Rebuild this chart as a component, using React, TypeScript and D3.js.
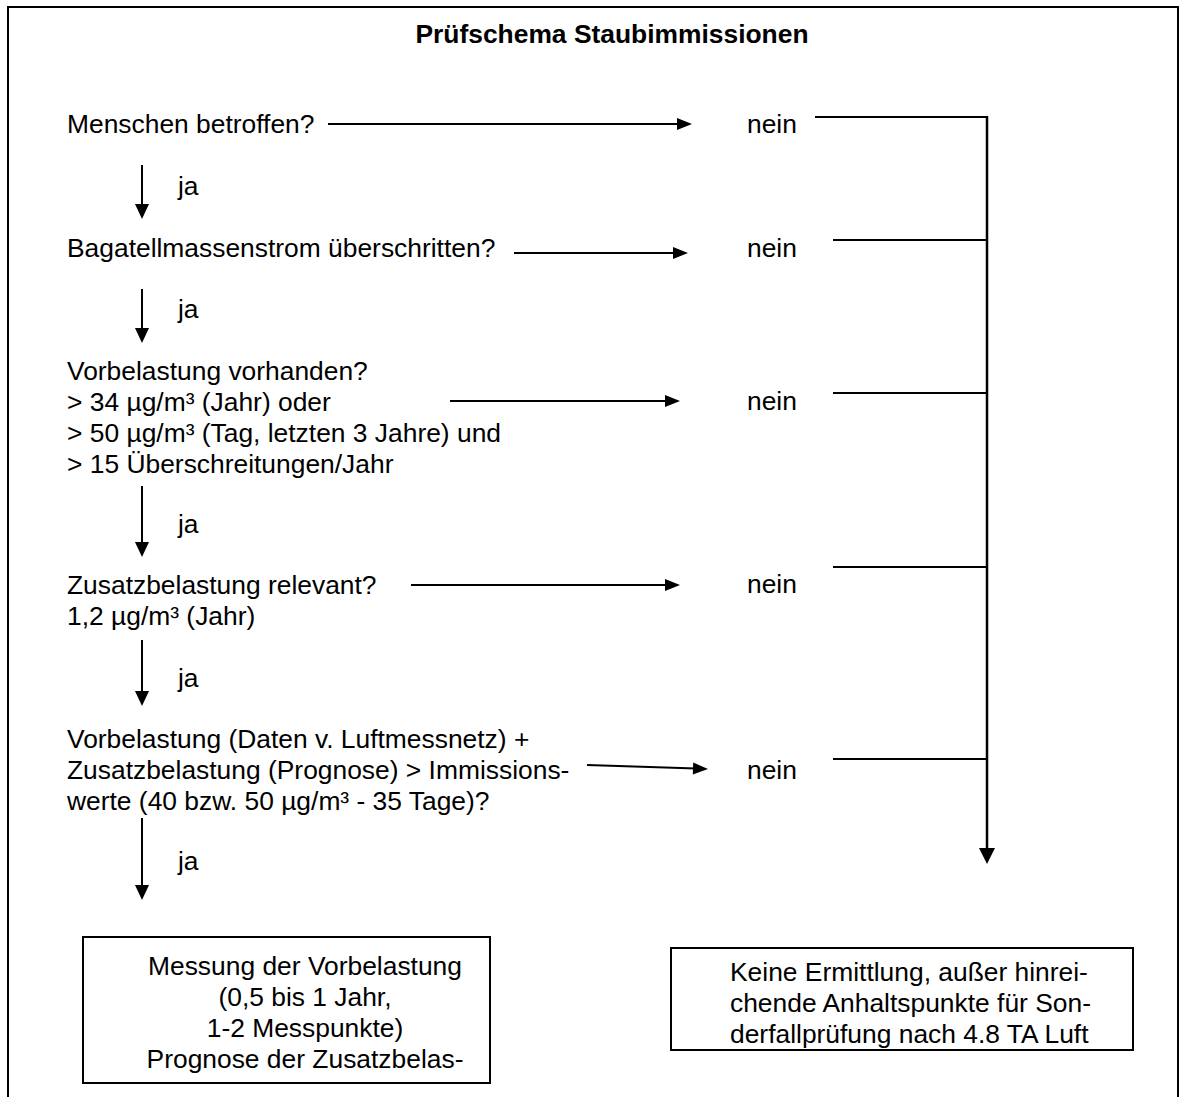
import { useEffect, useRef } from "react";
import * as d3 from "d3";

// texts
const title = "Prüfschema Staubimmissionen";
const questions = [
  ["Menschen betroffen?"],
  ["Bagatellmassenstrom überschritten?"],
  [
    "Vorbelastung vorhanden?",
    "> 34 µg/m³ (Jahr) oder",
    "> 50 µg/m³ (Tag, letzten 3 Jahre) und",
    "> 15 Überschreitungen/Jahr",
  ],
  ["Zusatzbelastung relevant?", "1,2 µg/m³ (Jahr)"],
  [
    "Vorbelastung (Daten v. Luftmessnetz) +",
    "Zusatzbelastung (Prognose) > Immissions-",
    "werte (40 bzw. 50 µg/m³ - 35 Tage)?",
  ],
];
const yesLabel = "ja";
const noLabel = "nein";
const resultYes = [
  "Messung der Vorbelastung",
  "(0,5 bis 1 Jahr,",
  "1-2 Messpunkte)",
  "Prognose der Zusatzbelas-",
];
const resultNo = [
  "Keine Ermittlung, außer hinrei-",
  "chende Anhaltspunkte für Son-",
  "derfallprüfung nach 4.8 TA Luft",
];

// layout (pixels)
const questionTop = [133, 257, 380, 594, 748];
const noArrows = [
  [328, 124, 692, 124],
  [514, 253, 688, 253],
  [450, 401, 680, 401],
  [411, 585, 680, 585],
  [587, 765, 708, 769],
];
const noBaseline = [133, 257, 410, 593, 779];
const collectorY = [117, 240, 393, 567, 759];
const collectorX0 = [815, 833, 833, 833, 833];
const yesArrows = [
  [165, 219],
  [289, 343],
  [486, 557],
  [640, 706],
  [818, 900],
];
const yesBaseline = [195, 318, 533, 687, 870];

const W = 1181;
const H = 1097;
const LH = 31;
const FS = 26.4;
const FONT = "'Liberation Sans', Arial, sans-serif";

function App() {
  const ref = useRef<SVGSVGElement>(null);

  useEffect(() => {
    document.body.style.margin = "0";
    const svg = d3.select(ref.current);
    svg.selectAll("*").remove();
    const line = d3.line();

    svg.append("rect").attr("width", W).attr("height", H).attr("fill", "#fff");

    // outer frame, open at the bottom
    svg
      .append("path")
      .attr("d", line([[8, H + 2], [8, 7], [1178, 7], [1178, H + 2]]))
      .attr("fill", "none")
      .attr("stroke", "#000")
      .attr("stroke-width", 2);

    svg
      .append("text")
      .attr("x", 612)
      .attr("y", 43)
      .attr("text-anchor", "middle")
      .attr("font-family", FONT)
      .attr("font-weight", "bold")
      .attr("font-size", FS)
      .text(title);

    const head = (tx: number, ty: number, dx: number, dy: number, len: number, hw: number) => {
      const n = Math.hypot(dx, dy);
      const ux = dx / n, uy = dy / n;
      const bx = tx - ux * len, by = ty - uy * len;
      svg
        .append("path")
        .attr("d", line([[tx, ty], [bx - uy * hw, by + ux * hw], [bx + uy * hw, by - ux * hw]]) + "Z")
        .attr("fill", "#000");
    };

    questions.forEach((lines, i) => {
      lines.forEach((t, j) => {
        svg
          .append("text")
          .attr("x", 67)
          .attr("y", questionTop[i] + j * LH)
          .attr("font-family", FONT)
          .attr("font-size", FS)
          .text(t);
      });

      // nein arrow
      const [x1, y1, x2, y2] = noArrows[i];
      svg
        .append("path")
        .attr("d", line([[x1, y1], [x2 - 12, y2 - ((y2 - y1) * 12) / (x2 - x1)]]))
        .attr("stroke", "#000")
        .attr("stroke-width", 2);
      head(x2, y2, x2 - x1, y2 - y1, 15, 6);

      svg
        .append("text")
        .attr("x", 747)
        .attr("y", noBaseline[i])
        .attr("font-family", FONT)
        .attr("font-size", FS)
        .text(noLabel);

      svg
        .append("path")
        .attr("d", line([[collectorX0[i], collectorY[i]], [987, collectorY[i]]]))
        .attr("stroke", "#000")
        .attr("stroke-width", 2);

      // ja arrow
      const [ya, yb] = yesArrows[i];
      svg
        .append("path")
        .attr("d", line([[142, ya], [142, yb - 10]]))
        .attr("stroke", "#000")
        .attr("stroke-width", 2);
      head(142, yb, 0, 1, 15, 7);

      svg
        .append("text")
        .attr("x", 178)
        .attr("y", yesBaseline[i])
        .attr("font-family", FONT)
        .attr("font-size", FS)
        .text(yesLabel);
    });

    // collector line down to result
    svg
      .append("path")
      .attr("d", line([[987, collectorY[0] - 1], [987, 852]]))
      .attr("stroke", "#000")
      .attr("stroke-width", 2.5);
    head(987, 864, 0, 1, 16, 8);

    // result boxes
    svg
      .append("rect")
      .attr("x", 83)
      .attr("y", 937)
      .attr("width", 407)
      .attr("height", 146)
      .attr("fill", "none")
      .attr("stroke", "#000")
      .attr("stroke-width", 2);
    resultYes.forEach((t, j) => {
      svg
        .append("text")
        .attr("x", 305)
        .attr("y", 975 + j * LH)
        .attr("text-anchor", "middle")
        .attr("font-family", FONT)
        .attr("font-size", FS)
        .text(t);
    });

    svg
      .append("rect")
      .attr("x", 671)
      .attr("y", 948)
      .attr("width", 462)
      .attr("height", 102)
      .attr("fill", "none")
      .attr("stroke", "#000")
      .attr("stroke-width", 2);
    resultNo.forEach((t, j) => {
      svg
        .append("text")
        .attr("x", 730)
        .attr("y", 981 + j * LH)
        .attr("font-family", FONT)
        .attr("font-size", FS)
        .text(t);
    });
  }, []);

  return <svg ref={ref} width={W} height={H} style={{ display: "block" }} />;
}

export default App;
